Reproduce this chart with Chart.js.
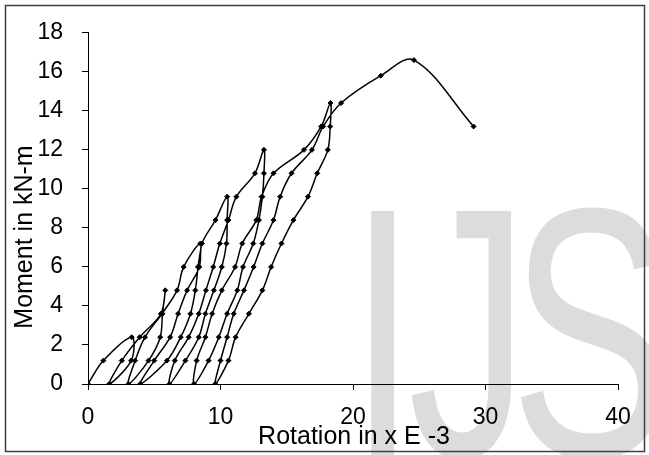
<!DOCTYPE html>
<html lang="en">
<head>
<meta charset="utf-8">
<title>Moment x Rotation</title>
<script src="https://cdn.jsdelivr.net/npm/chart.js"></script>
<style>
    html, body { margin: 0; padding: 0; background: #fff; }
    canvas { display: block; }
</style>
</head>
<body>
<canvas id="grafico-momento" width="649" height="455"></canvas>
<script>
// rotacao (x E-3) e momento (kN-m) de cada ciclo: carga ate o pico e descarga ate zero
const rotacaoCiclo1 = [0, 1.16, 3.3, 3.26, 1.6];
const momentoCiclo1 = [0, 1.2, 2.4, 1.2, 0];

const rotacaoCiclo2 = [2.55, 3.9, 5.5, 5.83, 5.62, 5.45, 4.57, 3.05];
const momentoCiclo2 = [1.2, 2.4, 3.6, 4.8, 3.6, 2.4, 1.2, 0];

const rotacaoCiclo3 = [3.56, 4.3, 5.58, 6.72, 7.22, 8.48, 8.3, 8.1, 7.73, 7.0, 5.96, 3.94];
const momentoCiclo3 = [1.2, 2.4, 3.6, 4.8, 6.0, 7.2, 6.0, 4.8, 3.6, 2.4, 1.2, 0];

const rotacaoCiclo4 = [5.0, 6.2, 6.8, 7.48, 8.4, 8.6, 9.62, 10.5, 10.5, 10.45, 10.1, 9.5, 8.86, 8.36, 7.35, 6.14];
const momentoCiclo4 = [1.2, 2.4, 3.6, 4.8, 6.0, 7.2, 8.4, 9.6, 8.4, 7.2, 6.0, 4.8, 3.6, 2.4, 1.2, 0];

const rotacaoCiclo5 = [6.55, 7.6, 8.36, 8.9, 9.45, 9.95, 10.6, 11.2, 12.6, 13.28,
    13.28, 13.16, 12.9, 12.47, 11.7, 11.27, 10.5, 9.87, 9.1, 8.0];
const momentoCiclo5 = [1.2, 2.4, 3.6, 4.8, 6.0, 7.2, 8.4, 9.6, 10.8, 12.0,
    10.8, 9.6, 8.4, 7.2, 6.0, 4.8, 3.6, 2.4, 1.2, 0];

const rotacaoCiclo6 = [8.2, 8.86, 9.37, 10.1, 11.1, 11.64, 12.7, 13.1, 14.0, 16.3, 17.6, 18.3,
    18.28, 18.1, 17.3, 16.6, 15.5, 14.6, 13.82, 13.16, 12.14, 11.14, 10.6, 9.6];
const momentoCiclo6 = [1.2, 2.4, 3.6, 4.8, 6.0, 7.2, 8.4, 9.6, 10.8, 12.0, 13.2, 14.4,
    13.2, 12.0, 10.8, 9.6, 8.4, 7.2, 6.0, 4.8, 3.6, 2.4, 1.2, 0];

// ultima carga ate a ruptura
const rotacaoCiclo7 = [10.0, 10.5, 11.0, 11.77, 12.5, 13.16, 14.0, 14.5, 15.36, 16.9, 17.75, 19.1, 22.1, 24.6, 29.1];
const momentoCiclo7 = [1.2, 2.4, 3.6, 4.8, 6.0, 7.2, 8.4, 9.6, 10.8, 12.0, 13.2, 14.4, 15.8, 16.6, 13.2];

const ticksRotacao = [0, 10, 20, 30, 40];
const ticksMomento = [0, 2, 4, 6, 8, 10, 12, 14, 16, 18];

const tituloX = 'Rotation in x E -3';
const tituloY = 'Moment in kN-m';
const marcaDagua = 'IJS';

document.addEventListener('DOMContentLoaded', () => {
    const ctx = document.getElementById('grafico-momento').getContext('2d');
    const fonte = '"Liberation Sans", Arial, sans-serif';

    const ciclos = [
        [rotacaoCiclo1, momentoCiclo1],
        [rotacaoCiclo2, momentoCiclo2],
        [rotacaoCiclo3, momentoCiclo3],
        [rotacaoCiclo4, momentoCiclo4],
        [rotacaoCiclo5, momentoCiclo5],
        [rotacaoCiclo6, momentoCiclo6],
        [rotacaoCiclo7, momentoCiclo7]
    ];
    const pontos = [];
    ciclos.forEach(([rot, mom]) => {
        rot.forEach((r, i) => pontos.push({ x: r, y: mom[i] }));
    });

    // marca d'agua, moldura e titulos dos eixos
    const extras = {
        id: 'extras',
        beforeDraw(chart) {
            const c = chart.ctx;
            const posicoes = [349, 408, 510];
            c.save();
            c.fillStyle = '#dcdcdc';
            c.font = '356px ' + fonte;
            marcaDagua.split('').forEach((letra, i) => {
                c.save();
                c.translate(posicoes[i], 456);
                c.scale(0.68, 1);
                c.fillText(letra, 0, 0);
                c.restore();
            });
            c.restore();
        },
        afterDraw(chart) {
            const c = chart.ctx;
            c.save();
            c.strokeStyle = '#404040';
            c.lineWidth = 1.5;
            c.strokeRect(5.5, 5.5, 639, 446);
            c.fillStyle = '#000';
            c.font = '25px ' + fonte;
            c.textAlign = 'center';
            c.textBaseline = 'middle';
            c.fillText(tituloX, 354, 437);
            c.translate(25, 237);
            c.rotate(-Math.PI / 2);
            c.fillText(tituloY, 0, 0);
            c.restore();
        }
    };

    new Chart(ctx, {
        type: 'scatter',
        data: {
            datasets: [{
                data: pontos,
                showLine: true,
                borderColor: '#000',
                borderWidth: 1.5,
                tension: 0.35,
                pointStyle: 'rectRot',
                pointRadius: 2.5,
                pointBackgroundColor: '#000',
                pointBorderColor: '#000',
                pointBorderWidth: 1
            }]
        },
        options: {
            responsive: false,
            animation: false,
            layout: { padding: { top: 32, right: 31, bottom: 0, left: 0 } },
            plugins: {
                legend: { display: false },
                tooltip: { enabled: false }
            },
            scales: {
                x: {
                    type: 'linear',
                    min: 0,
                    max: 40,
                    afterFit: (scale) => { scale.height = 71; },
                    afterBuildTicks: (scale) => { scale.ticks = ticksRotacao.map(v => ({ value: v })); },
                    grid: { drawOnChartArea: false, drawTicks: true, tickLength: 6, color: '#000' },
                    border: { display: true, color: '#000', width: 1 },
                    ticks: { color: '#000', padding: 14, font: { family: fonte, size: 23 } }
                },
                y: {
                    type: 'linear',
                    min: 0,
                    max: 18,
                    afterFit: (scale) => { scale.width = 88; },
                    afterBuildTicks: (scale) => { scale.ticks = ticksMomento.map(v => ({ value: v })); },
                    grid: { drawOnChartArea: false, drawTicks: true, tickLength: 6, color: '#000' },
                    border: { display: true, color: '#000', width: 1 },
                    ticks: { color: '#000', padding: 19, font: { family: fonte, size: 23 } }
                }
            }
        },
        plugins: [extras]
    });
});
</script>
</body>
</html>
